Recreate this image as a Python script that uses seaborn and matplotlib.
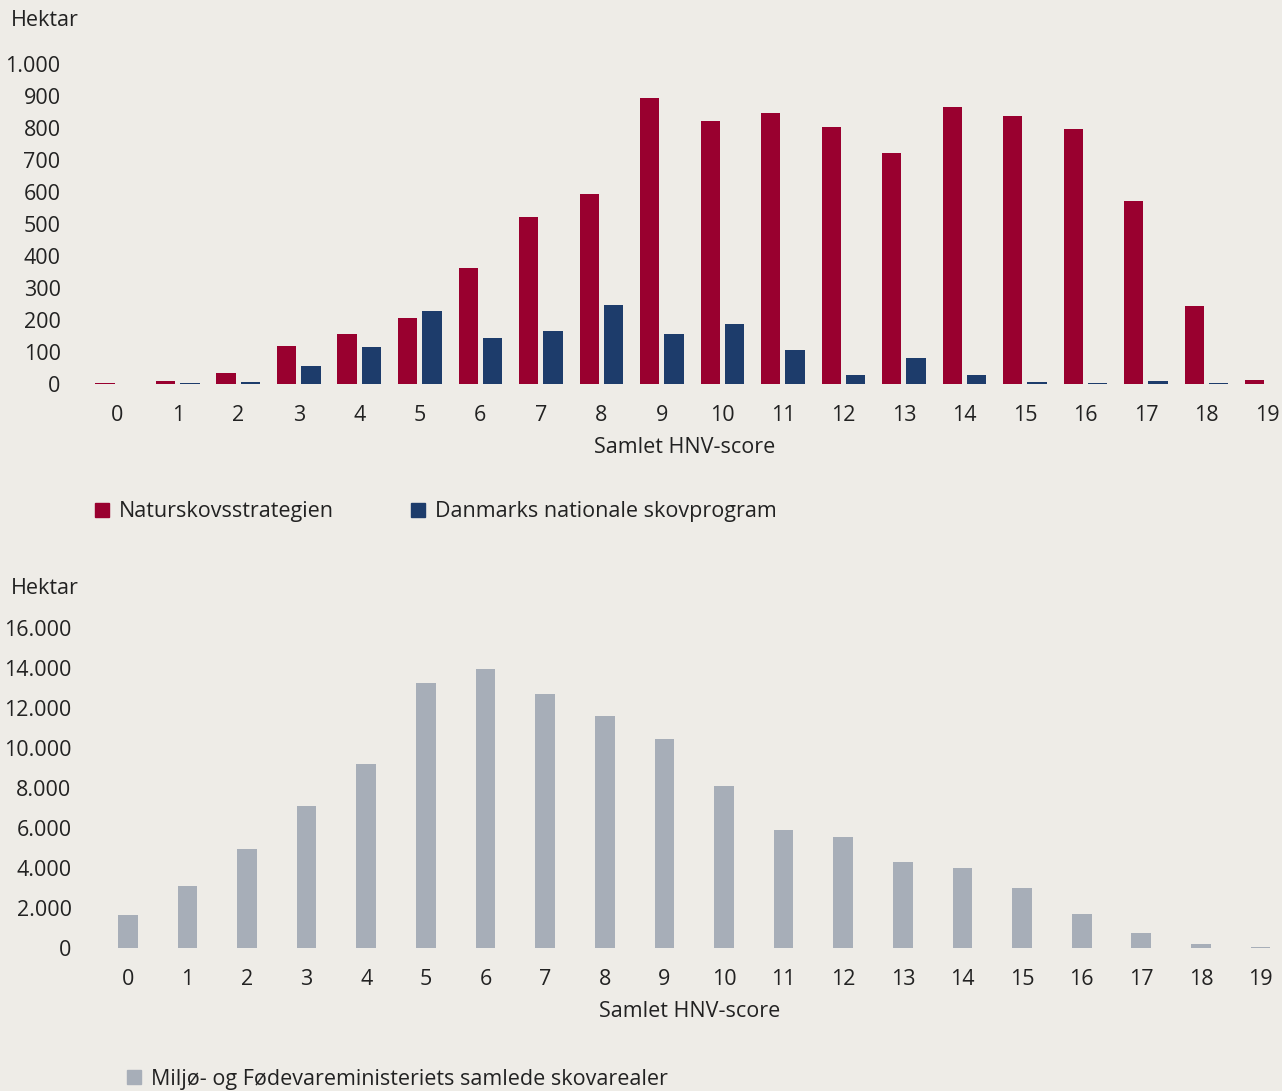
import numpy as np
import pandas as pd
import matplotlib
matplotlib.use("Agg")
import matplotlib.pyplot as plt
import seaborn as sns
from matplotlib.ticker import FuncFormatter
from matplotlib.patches import Patch

# data
scores = list(range(20))
naturskov = [2, 8, 35, 120, 155, 205, 362, 522, 594, 894, 822, 847, 803, 722,
             866, 838, 797, 572, 244, 12]
skovprogram = [0, 2, 5, 56, 115, 228, 144, 166, 247, 156, 187, 106, 28, 81,
               28, 6, 2, 8, 2, 0]
mfm_areal = [1650, 3100, 4950, 7100, 9200, 13250, 13950, 12700, 11600, 10450,
             8100, 5900, 5550, 4300, 4000, 3000, 1700, 750, 200, 30]

lbl_nat = "Naturskovsstrategien"
lbl_dnsp = "Danmarks nationale skovprogram"
lbl_mfm = "Miljø- og Fødevareministeriets samlede skovarealer"

BG = "#EEECE7"
RED = "#99002F"
BLUE = "#1D3C6B"
GREY = "#A7AEB8"
TXT = "#222222"
FS = 15.5

sns.set_theme(style="white")
plt.rcParams["font.family"] = ["Open Sans", "DejaVu Sans"]
plt.rcParams["text.color"] = TXT
plt.rcParams["axes.labelcolor"] = TXT
plt.rcParams["xtick.color"] = TXT
plt.rcParams["ytick.color"] = TXT

W, H = 1282, 1091
fig = plt.figure(figsize=(W / 100, H / 100), dpi=100, facecolor=BG)


def px_axes(x0, x1, ytop, ybot):
    return fig.add_axes([x0 / W, 1 - ybot / H, (x1 - x0) / W, (ybot - ytop) / H])


def dot_thousands(v, pos):
    return f"{int(round(v)):,}".replace(",", ".")


top = pd.DataFrame({
    "score": scores * 2,
    "hektar": naturskov + skovprogram,
    "serie": [lbl_nat] * 20 + [lbl_dnsp] * 20,
})

ax1 = px_axes(87, 1282, 64, 384)
sns.barplot(data=top, x="score", y="hektar", hue="serie", order=scores,
            palette=[RED, BLUE], saturation=1, width=0.8, gap=0.2,
            linewidth=0, ax=ax1, legend=False)
ax1.set_xlim(-0.5, 19.25)
ax1.set_ylim(0, 1000)
ax1.set_yticks(range(0, 1001, 100))

bot = pd.DataFrame({"score": scores, "hektar": mfm_areal})
ax2 = px_axes(98, 1282, 628, 948)
sns.barplot(data=bot, x="score", y="hektar", order=scores, color=GREY,
            saturation=1, width=0.33, linewidth=0, ax=ax2)
ax2.set_xlim(-0.5, 19.36)
ax2.set_ylim(0, 16000)
ax2.set_yticks(range(0, 16001, 2000))

for ax in (ax1, ax2):
    ax.set_facecolor(BG)
    sns.despine(ax=ax, left=True, bottom=True)
    ax.yaxis.set_major_formatter(FuncFormatter(dot_thousands))
    ax.tick_params(axis="both", length=0, labelsize=FS)
    ax.tick_params(axis="x", pad=15)
    ax.tick_params(axis="y", pad=19)
    ax.set_xlabel("Samlet HNV-score", fontsize=FS, labelpad=8)
    ax.set_ylabel("")
    ax.grid(False)

fig.text(11 / W, 1 - 21 / H, "Hektar", fontsize=FS, va="center", ha="left")
fig.text(11 / W, 1 - 588 / H, "Hektar", fontsize=FS, va="center", ha="left")

leg_kw = dict(frameon=False, fontsize=FS, handlelength=0.65, handleheight=0.65,
              handletextpad=0.45, borderaxespad=0, borderpad=0)
fig.legend(handles=[Patch(color=RED, label=lbl_nat), Patch(color=BLUE, label=lbl_dnsp)],
           loc="center left", bbox_to_anchor=(95 / W, 1 - 512 / H), ncol=2,
           columnspacing=3.6, **leg_kw)
fig.legend(handles=[Patch(color=GREY, label=lbl_mfm)],
           loc="center left", bbox_to_anchor=(127 / W, 1 - 1079 / H), **leg_kw)

fig.savefig("out.png", dpi=100, facecolor=BG)
